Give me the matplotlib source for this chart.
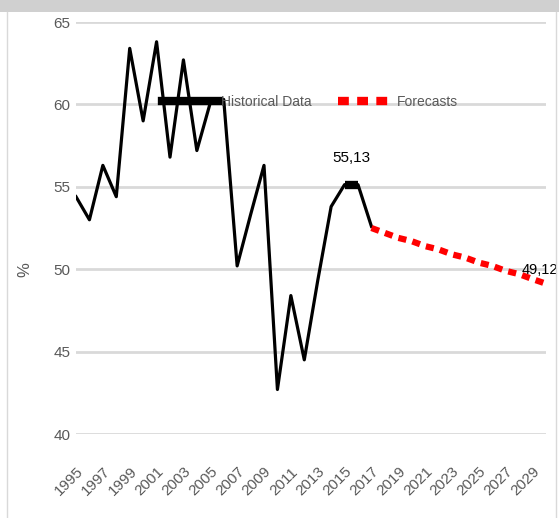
import matplotlib.pyplot as plt
from matplotlib.lines import Line2D
from matplotlib.patches import Rectangle

plt.rcParams['font.family'] = ['Liberation Sans', 'DejaVu Sans']

# historical values (1995-2017) and forecasts (2017-2030)
hist_years = list(range(1995, 2018))
hist_values = [54.4, 53.0, 56.3, 54.4, 63.4, 59.0, 63.8, 56.8, 62.7, 57.2,
               60.1, 60.3, 50.2, 53.3, 56.3, 42.7, 48.4, 44.5, 49.3, 53.8,
               55.13, 55.13, 52.6]
fc_years = list(range(2017, 2031))
fc_values = [52.5, 52.2, 51.9, 51.7, 51.4, 51.2, 50.9, 50.7, 50.4, 50.2,
             49.9, 49.7, 49.4, 49.12]
tick_years = list(range(1995, 2030, 2))
y_ticks = [40, 45, 50, 55, 60, 65]

grey = '#595959'

fig = plt.figure(figsize=(5.59, 5.18), dpi=100)
ax = fig.add_axes([76 / 559, 1 - 434 / 518, 470 / 559, 412 / 518])

# screenshot frame
fig.patches.append(Rectangle((0, 1 - 12 / 518), 1, 12 / 518, transform=fig.transFigure,
                             facecolor='#d0d0d0', edgecolor='none'))
fig.add_artist(Line2D([7 / 559, 7 / 559], [0, 1 - 12 / 518], transform=fig.transFigure,
                      color='#d9d9d9', lw=1))
fig.add_artist(Line2D([556 / 559, 556 / 559], [0, 1 - 12 / 518], transform=fig.transFigure,
                      color='#d9d9d9', lw=1))

for y in y_ticks:
    ax.axhline(y, color='#d9d9d9', lw=2, zorder=0)

ax.plot(hist_years, hist_values, color='black', lw=2.3, label='Historical Data')
ax.plot(hist_years[-3:-1], hist_values[-3:-1], color='black', lw=6, solid_capstyle='butt')
ax.plot(fc_years, fc_values, color='#ff0000', lw=4.5, ls=(0, (1.3, 1.0)),
        label='Forecasts')

ax.text(2015.5, hist_values[-2] + 1.2, '55,13', ha='center', va='bottom', fontsize=11)
ax.text(1.025, fc_values[-1] + 0.4, '49,12', ha='right', va='bottom', fontsize=10.5,
        transform=ax.get_yaxis_transform(), clip_on=False)

ax.set_xlim(1995, 2030)
ax.set_ylim(40, 65)
ax.set_yticks(y_ticks)
ax.set_xticks(tick_years)
ax.set_xticklabels([str(y) for y in tick_years], rotation=45, ha='right',
                   rotation_mode='anchor')
ax.tick_params(axis='both', length=0, colors=grey, labelsize=11)
ax.tick_params(axis='y', pad=4)
ax.tick_params(axis='x', pad=22)
for s in ax.spines.values():
    s.set_visible(False)

ax.set_ylabel('%', color=grey, fontsize=12)
ax.yaxis.set_label_coords(-44 / 470, 0.40)

leg = ax.legend(loc='center left', bbox_to_anchor=(0.157, 0.806), ncol=2, frameon=False,
                handlelength=4.1, handletextpad=0.15, columnspacing=1.9, fontsize=10,
                borderpad=0.4)
for t in leg.get_texts():
    t.set_color(grey)
leg.get_lines()[0].set_linewidth(6)
leg.get_lines()[1].set_linewidth(6)

fig.savefig('out.png', dpi=100)
